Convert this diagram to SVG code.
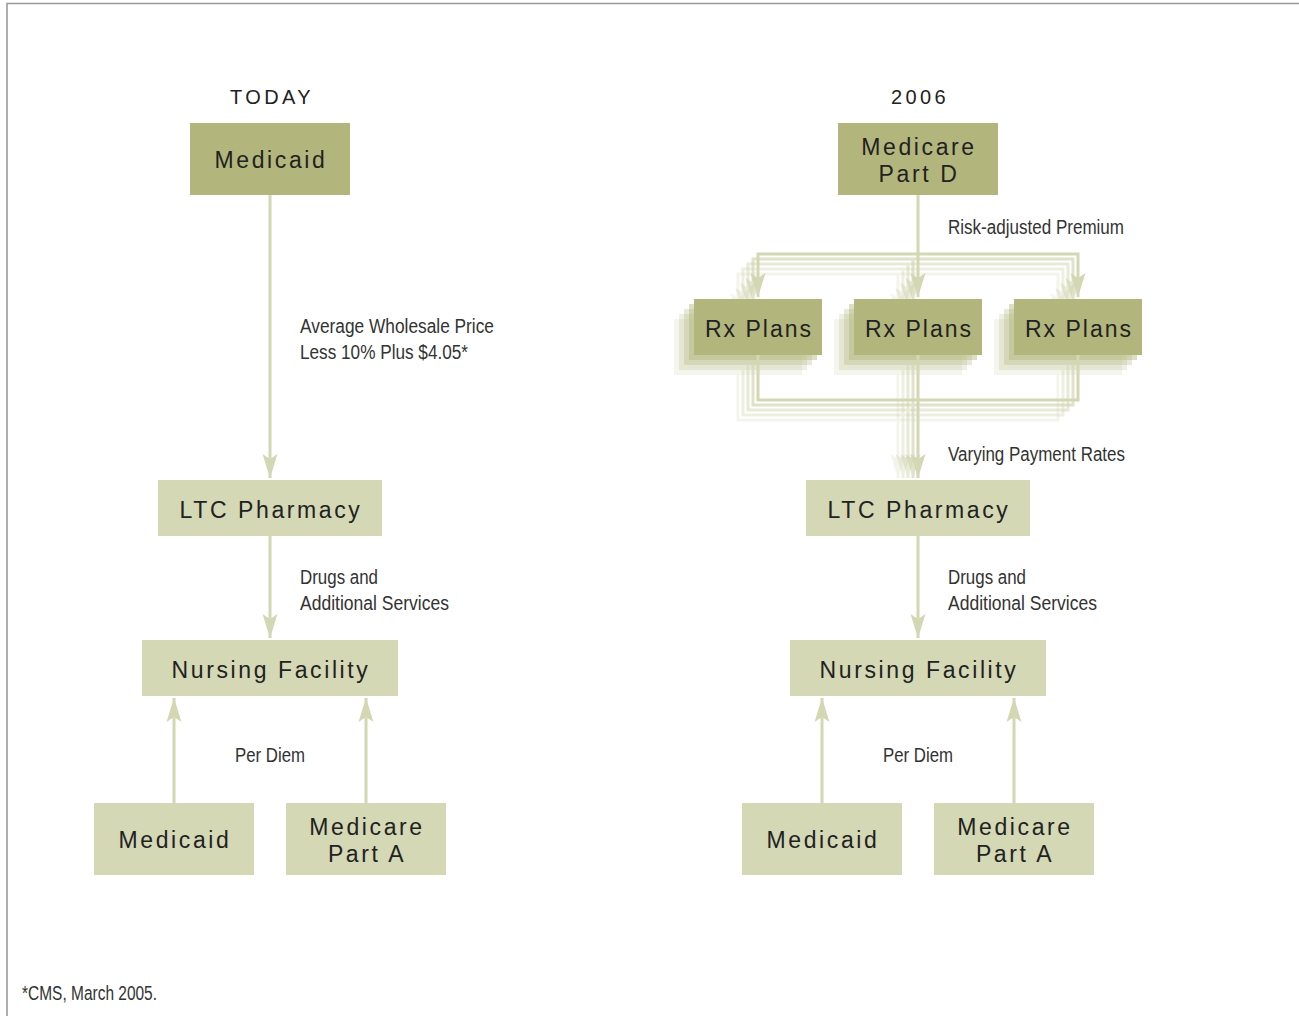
<svg xmlns="http://www.w3.org/2000/svg" width="1299" height="1016" viewBox="0 0 1299 1016">
<defs>
<style>
.dark{fill:#b3b67c}
.light{fill:#d4d8b5}
.nt{font-family:"Liberation Sans",Arial,sans-serif;font-size:23px;letter-spacing:2.6px;fill:#222;text-anchor:middle}
.rx{letter-spacing:2px}
.hd{font-family:"Liberation Sans",Arial,sans-serif;font-size:20px;letter-spacing:3.4px;fill:#222;text-anchor:middle}
.lb{font-family:"Liberation Sans",Arial,sans-serif;font-size:19.5px;fill:#333}
.ln{fill:none;stroke:#d3d7b3;stroke-width:3}
.ar{marker-end:url(#ah)}
</style>
<marker id="ah" markerUnits="userSpaceOnUse" markerWidth="30" markerHeight="20" refX="24" refY="8" orient="auto" overflow="visible">
<path d="M24,8 L0,0.5 L5,8 L0,15.5 Z" fill="#d3d7b3"/>
</marker>
</defs>
<rect width="1299" height="1016" fill="#fff"/>
<path d="M7,1016 V3.5 H1299" fill="none" stroke="#9a9a9a" stroke-width="1.6"/>

<text class="hd" x="272" y="104">TODAY</text>
<text class="hd" x="920" y="104">2006</text>

<g id="rx-shadows">
<rect class="dark" x="674" y="319" width="128" height="56" opacity="0.14"/>
<rect class="dark" x="679" y="314" width="128" height="56" opacity="0.22"/>
<rect class="dark" x="684" y="309" width="128" height="56" opacity="0.32"/>
<rect class="dark" x="689" y="304" width="128" height="56" opacity="0.45"/>
<rect class="dark" x="834" y="319" width="128" height="56" opacity="0.14"/>
<rect class="dark" x="839" y="314" width="128" height="56" opacity="0.22"/>
<rect class="dark" x="844" y="309" width="128" height="56" opacity="0.32"/>
<rect class="dark" x="849" y="304" width="128" height="56" opacity="0.45"/>
<rect class="dark" x="994" y="319" width="128" height="56" opacity="0.14"/>
<rect class="dark" x="999" y="314" width="128" height="56" opacity="0.22"/>
<rect class="dark" x="1004" y="309" width="128" height="56" opacity="0.32"/>
<rect class="dark" x="1009" y="304" width="128" height="56" opacity="0.45"/>
</g>

<g id="connectors">
<g opacity="0.25">
<path class="ln ar" d="M898,274 H738 V317"/><path class="ln ar" d="M898,274 H1058 V317"/><path class="ln ar" d="M898,274 V317"/>
<path class="ln" d="M738,375 V420 H1058 V375"/><path class="ln ar" d="M898,375 V478"/>
</g>
<g opacity="0.38">
<path class="ln ar" d="M903,269 H743 V312"/><path class="ln ar" d="M903,269 H1063 V312"/><path class="ln ar" d="M903,269 V312"/>
<path class="ln" d="M743,370 V415 H1063 V370"/><path class="ln ar" d="M903,370 V478"/>
</g>
<g opacity="0.52">
<path class="ln ar" d="M908,264 H748 V307"/><path class="ln ar" d="M908,264 H1068 V307"/><path class="ln ar" d="M908,264 V307"/>
<path class="ln" d="M748,365 V410 H1068 V365"/><path class="ln ar" d="M908,365 V478"/>
</g>
<g opacity="0.7">
<path class="ln ar" d="M913,259 H753 V302"/><path class="ln ar" d="M913,259 H1073 V302"/><path class="ln ar" d="M913,259 V302"/>
<path class="ln" d="M753,360 V405 H1073 V360"/><path class="ln ar" d="M913,360 V478"/>
</g>
<g>
<path class="ln ar" d="M918,254 H758 V297"/><path class="ln ar" d="M918,254 H1078 V297"/><path class="ln ar" d="M918,195 V297"/>
<path class="ln" d="M758,355 V400 H1078 V355"/><path class="ln ar" d="M918,355 V478"/>
</g>
<path class="ln ar" d="M270,195 V478"/>
<path class="ln ar" d="M270,536 V638"/>
<path class="ln ar" d="M174,803 V698"/>
<path class="ln ar" d="M366,803 V698"/>
<path class="ln ar" d="M918,536 V638"/>
<path class="ln ar" d="M822,803 V698"/>
<path class="ln ar" d="M1014,803 V698"/>
</g>

<g id="today-medicaid"><rect class="dark" x="190" y="123" width="160" height="72"/><text class="nt" x="271" y="168">Medicaid</text></g>
<g id="today-ltc"><rect class="light" x="158" y="480" width="224" height="56"/><text class="nt" x="271" y="518">LTC Pharmacy</text></g>
<g id="today-nf"><rect class="light" x="142" y="640" width="256" height="56"/><text class="nt" x="271" y="678">Nursing Facility</text></g>
<g id="today-medicaid2"><rect class="light" x="94" y="803" width="160" height="72"/><text class="nt" x="175" y="848">Medicaid</text></g>
<g id="today-parta"><rect class="light" x="286" y="803" width="160" height="72"/><text class="nt" x="367" y="835">Medicare</text><text class="nt" x="367" y="862">Part A</text></g>

<g id="partd"><rect class="dark" x="838" y="123" width="160" height="72"/><text class="nt" x="919" y="155">Medicare</text><text class="nt" x="919" y="182">Part D</text></g>
<g id="rx1"><rect class="dark" x="694" y="299" width="128" height="56"/><text class="nt rx" x="759" y="337">Rx Plans</text></g>
<g id="rx2"><rect class="dark" x="854" y="299" width="128" height="56"/><text class="nt rx" x="919" y="337">Rx Plans</text></g>
<g id="rx3"><rect class="dark" x="1014" y="299" width="128" height="56"/><text class="nt rx" x="1079" y="337">Rx Plans</text></g>
<g id="ltc-2006"><rect class="light" x="806" y="480" width="224" height="56"/><text class="nt" x="919" y="518">LTC Pharmacy</text></g>
<g id="nf-2006"><rect class="light" x="790" y="640" width="256" height="56"/><text class="nt" x="919" y="678">Nursing Facility</text></g>
<g id="medicaid-2006"><rect class="light" x="742" y="803" width="160" height="72"/><text class="nt" x="823" y="848">Medicaid</text></g>
<g id="parta-2006"><rect class="light" x="934" y="803" width="160" height="72"/><text class="nt" x="1015" y="835">Medicare</text><text class="nt" x="1015" y="862">Part A</text></g>

<g id="labels">
<text class="lb" x="300" y="333" textLength="194" lengthAdjust="spacingAndGlyphs">Average Wholesale Price</text>
<text class="lb" x="300" y="359" textLength="168" lengthAdjust="spacingAndGlyphs">Less 10% Plus $4.05*</text>
<text class="lb" x="300" y="584" textLength="78" lengthAdjust="spacingAndGlyphs">Drugs and</text>
<text class="lb" x="300" y="610" textLength="149" lengthAdjust="spacingAndGlyphs">Additional Services</text>
<text class="lb" x="235" y="762" textLength="70" lengthAdjust="spacingAndGlyphs">Per Diem</text>
<text class="lb" x="948" y="234" textLength="176" lengthAdjust="spacingAndGlyphs">Risk-adjusted Premium</text>
<text class="lb" x="948" y="461" textLength="177" lengthAdjust="spacingAndGlyphs">Varying Payment Rates</text>
<text class="lb" x="948" y="584" textLength="78" lengthAdjust="spacingAndGlyphs">Drugs and</text>
<text class="lb" x="948" y="610" textLength="149" lengthAdjust="spacingAndGlyphs">Additional Services</text>
<text class="lb" x="883" y="762" textLength="70" lengthAdjust="spacingAndGlyphs">Per Diem</text>
<text class="lb" x="22" y="1000" font-size="17" textLength="135" lengthAdjust="spacingAndGlyphs">*CMS, March 2005.</text>
</g>
</svg>
